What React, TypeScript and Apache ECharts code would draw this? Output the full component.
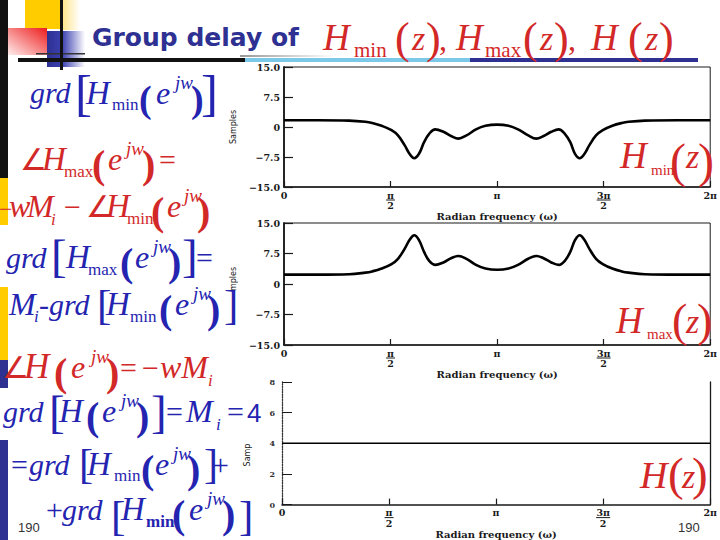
import React, { useEffect, useRef } from 'react';
import * as echarts from 'echarts';

// ---------- data ----------
const OMEGA = [0, 0.5, 0.96, 1.2, 1.3, 1.44, 1.585, 1.68, 1.78, 1.85, 1.92, 1.99, 2.065, 2.14, 2.23, 2.35, 2.47, 2.57, 2.69, 2.83, 2.97, 3.1416,
  3.31, 3.45, 3.6, 3.72, 3.82, 3.94, 4.05, 4.14, 4.22, 4.29, 4.36, 4.43, 4.5, 4.6, 4.7, 4.84, 4.98, 5.08, 5.32, 5.8, 6.2832];
const HMIN = [1.7, 1.7, 1.6, 1.3, 1.0, 0.3, -0.8, -2.1, -4.6, -6.7, -7.8, -6.7, -3.8, -1.7, -0.6, -1.2, -2.3, -2.9, -2.1, -0.6, 0.3, 0.6,
  0.3, -0.6, -2.1, -2.9, -2.3, -1.2, -0.6, -1.7, -3.8, -6.7, -7.8, -6.7, -4.6, -2.1, -0.8, 0.3, 1.0, 1.3, 1.6, 1.7, 1.7];
const HMAX = [2.3, 2.3, 2.4, 2.8, 3.1, 3.8, 4.9, 6.2, 8.7, 10.8, 12.0, 10.8, 7.9, 5.7, 4.7, 5.3, 6.4, 6.9, 6.2, 4.7, 3.8, 3.5,
  3.8, 4.7, 6.2, 6.9, 6.4, 5.3, 4.7, 5.7, 7.9, 10.8, 12.0, 10.8, 8.7, 6.2, 4.9, 3.8, 3.1, 2.8, 2.4, 2.3, 2.3];
const HTOT_OMEGA = [0, 6.2832];
const HTOT = [4, 4];

const X_LABELS = ['0', 'π/2', 'π', '3π/2', '2π'];
const Y_LABELS_15 = ['−15.0', '−7.5', '0', '7.5', '15.0'];
const Y_LABELS_8 = ['0', '2', '4', '6', '8'];
const X_NAME = 'Radian frequency (ω)';

// ---------- styling ----------
const BLUE = '#2424B0';
const RED = '#D22828';
const NAVY = '#2E3192';
const INK = '#1a1a1a';

type Tok = [string, number, number, number, string];

const ROW1: Tok[] = [['grd', 30, 103, 30, 'i'], ['[', 75, 110, 51, 'n'], ['H', 86, 104, 33, 'i'], ['min', 112, 110, 17, 'n'], ['(', 139, 112, 38, 'b'], ['e', 156, 104, 32, 'i'], ['jw', 175, 89, 19, 'i'], [')', 191, 112, 38, 'b'], [']', 201, 110, 51, 'n']];
const ROW2: Tok[] = [['∠', 20, 170, 30, 'n'], ['H', 42, 170, 33, 'i'], ['max', 64, 177, 17, 'n'], ['(', 92, 178, 40, 'b'], ['e', 108, 170, 32, 'i'], ['jw', 126, 155, 19, 'i'], [')', 142, 178, 40, 'b'], ['=', 159, 170, 30, 'n']];
const ROW3: Tok[] = [['−', -1, 217, 24, 'n'], ['w', 9, 217, 32, 'i'], ['M', 27, 217, 32, 'i'], ['i', 51, 225, 17, 'i'], ['−', 64, 217, 30, 'n'], ['∠', 86, 217, 30, 'n'], ['H', 106, 217, 33, 'i'], ['min', 127, 224, 17, 'n'], ['(', 151, 225, 40, 'b'], ['e', 167, 217, 32, 'i'], ['jw', 184, 202, 19, 'i'], [')', 197, 225, 40, 'b']];
const ROW4: Tok[] = [['grd', 6, 268, 30, 'i'], ['[', 51, 272, 47, 'n'], ['H', 66, 268, 33, 'i'], ['max', 88, 275, 17, 'n'], ['(', 120, 276, 40, 'b'], ['e', 135, 268, 32, 'i'], ['jw', 153, 253, 19, 'i'], [')', 168, 276, 40, 'b'], [']', 182, 272, 47, 'n'], ['=', 196, 268, 30, 'n']];
const ROW5: Tok[] = [['M', 9, 315, 32, 'i'], ['i', 34, 322, 17, 'i'], ['-grd', 39, 315, 30, 'i'], ['[', 97, 319, 43, 'n'], ['H', 106, 315, 33, 'i'], ['min', 130, 322, 17, 'n'], ['(', 159, 323, 40, 'b'], ['e', 175, 315, 32, 'i'], ['jw', 193, 300, 19, 'i'], [')', 207, 323, 40, 'b'], [']', 224, 319, 43, 'n']];
const ROW6: Tok[] = [['∠', 2, 378, 30, 'n'], ['H', 24, 378, 35, 'i'], ['(', 54, 386, 40, 'b'], ['e', 71, 378, 32, 'i'], ['jw', 91, 363, 19, 'i'], [')', 106, 386, 40, 'b'], ['=', 120, 378, 30, 'n'], ['−', 142, 378, 30, 'n'], ['wM', 160, 378, 32, 'i'], ['i', 208, 386, 17, 'i']];
const ROW7: Tok[] = [['grd', 3, 422, 30, 'i'], ['[', 49, 428, 47, 'n'], ['H', 59, 422, 33, 'i'], ['(', 86, 430, 40, 'b'], ['e', 102, 422, 32, 'i'], ['jw', 121, 407, 19, 'i'], [')', 136, 430, 40, 'b'], [']', 151, 428, 47, 'n'], ['=', 166, 422, 30, 'n'], ['M', 186, 422, 32, 'i'], ['i', 216, 430, 17, 'i'], ['=', 227, 422, 30, 'n'], ['4', 247, 422, 26, 's']];
const ROW8: Tok[] = [['=', 11, 475, 30, 'n'], ['grd', 29, 475, 30, 'i'], ['[', 79, 478, 42, 'n'], ['H', 87, 475, 33, 'i'], ['min', 114, 481, 17, 'n'], ['(', 141, 483, 40, 'b'], ['e', 155, 475, 32, 'i'], ['jw', 173, 460, 19, 'i'], [')', 187, 483, 40, 'b'], [']', 204, 478, 42, 'n'], ['+', 212, 475, 30, 'n']];
const ROW9: Tok[] = [['+', 46, 520, 30, 'n'], ['grd', 62, 520, 30, 'i'], ['[', 111, 530, 43, 'n'], ['H', 121, 520, 33, 'i'], ['min', 146, 527, 17, 'b'], ['(', 172, 528, 40, 'b'], ['e', 189, 520, 32, 'i'], ['jw', 207, 505, 19, 'i'], [')', 222, 528, 40, 'b'], [']', 239, 530, 43, 'n']];
const TITLE_MATH: Tok[] = [['H', 323, 50, 37, 'i'], ['min', 354, 57, 21, 'n'], ['(', 395, 53, 44, 'n'], ['z', 412, 50, 34, 'i'], [')', 426, 53, 44, 'n'], [',', 439, 50, 32, 'n'], ['H', 456, 50, 37, 'i'], ['max', 485, 57, 21, 'n'], ['(', 523, 53, 44, 'n'], ['z', 540, 50, 34, 'i'], [')', 554, 53, 44, 'n'], [',', 568, 50, 32, 'n'], ['H', 591, 50, 37, 'i'], ['(', 628, 53, 44, 'n'], ['z', 645, 50, 34, 'i'], [')', 659, 53, 44, 'n']];
const LBL1: Tok[] = [['H', 620, 168, 37, 'i'], ['min', 651, 175, 15, 'n'], ['(', 670, 177, 48, 'n'], ['z', 686, 168, 34, 'i'], [')', 698, 177, 48, 'n']];
const LBL2: Tok[] = [['H', 616, 333, 37, 'i'], ['max', 647, 339, 15, 'n'], ['(', 672, 336, 46, 'n'], ['z', 686, 333, 34, 'i'], [')', 697, 336, 46, 'n']];
const LBL3: Tok[] = [['H', 640, 488, 38, 'i'], ['(', 668, 490, 47, 'n'], ['z', 682, 488, 34, 'i'], [')', 692, 490, 47, 'n']];

function toks(list: Tok[], color: string) {
  return list.map(([text, x, B, size, f]) => ({
    type: 'text',
    x,
    y: B - 0.34 * size,
    z: 100,
    style: {
      text,
      fill: color,
      fontSize: size,
      fontFamily: f === 's' ? 'Liberation Sans' : 'Liberation Serif',
      fontStyle: f.includes('i') ? 'italic' : 'normal',
      fontWeight: f.includes('b') ? 'bold' : 'normal',
      align: 'left',
      verticalAlign: 'middle',
    },
  }));
}

function rect(x: number, y: number, w: number, h: number, fill: any, z = 60) {
  return { type: 'rect', shape: { x, y, width: w, height: h }, style: { fill }, z, silent: true };
}

const grad = (x: number, y: number, x2: number, y2: number, stops: [number, string][]) => ({
  type: 'linear', x, y, x2, y2, colorStops: stops.map(([offset, color]) => ({ offset, color })),
});

const tickFont = { fontFamily: 'DejaVu Serif', fontSize: 9.5, fontWeight: 'bold', color: INK };

function xLabel(v: number) {
  const k = Math.round(v / (Math.PI / 2));
  const s = X_LABELS[k] ?? '';
  if (s.includes('/')) {
    const [num, den] = s.split('/');
    return `{n|${num}}\n{${num.length > 1 ? 'bw' : 'b'}| }\n{d|${den}}`;
  }
  return `{n|${s}}`;
}

const xRich = {
  n: { ...tickFont, lineHeight: 8 },
  b: { width: 9, height: 1, backgroundColor: INK, lineHeight: 2, fontSize: 1 },
  bw: { width: 14, height: 1, backgroundColor: INK, lineHeight: 2, fontSize: 1 },
  d: { ...tickFont, lineHeight: 9 },
};

function xAxis(gridIndex: number) {
  return {
    type: 'value', gridIndex, min: 0, max: 2 * Math.PI, interval: Math.PI / 2,
    axisLine: { onZero: false, lineStyle: { color: INK, width: 1.5 } },
    axisTick: { inside: true, length: 6, lineStyle: { color: INK, width: 1.2 } },
    splitLine: { show: false },
    axisLabel: { margin: 4, formatter: xLabel, rich: xRich, showMinLabel: true, showMaxLabel: true, hideOverlap: false },
    name: X_NAME, nameLocation: 'middle', nameGap: 17,
    nameTextStyle: { fontFamily: 'DejaVu Serif', fontSize: 10, fontWeight: 'bold', color: INK },
  };
}

function yAxis15(gridIndex: number) {
  return {
    type: 'value', gridIndex, min: -15, max: 15, interval: 7.5,
    axisLine: { lineStyle: { color: INK, width: 1.8 } },
    axisTick: { inside: true, length: 9, lineStyle: { color: INK, width: 1.2 } },
    splitLine: { show: false },
    axisLabel: { margin: 4, ...tickFont, formatter: (v: number) => Y_LABELS_15[Math.round((v + 15) / 7.5)] ?? '' },
    name: 'Samples', nameLocation: 'middle', nameGap: 47,
    nameTextStyle: { fontFamily: 'DejaVu Sans', fontSize: 8, color: INK },
  };
}

function buildOption() {
  const graphic: any[] = [
    // left bars
    rect(0, 0, 8, 178, '#111'),
    rect(0, 178, 8, 47, '#FFCC00'),
    rect(0, 287, 8, 73, '#FFCC00'),
    rect(0, 360, 8, 28, NAVY),
    rect(0, 440, 8, 100, NAVY),
    // top-left decoration
    rect(25, 0, 35, 29, '#FFCC00'),
    rect(60, 0, 20, 30, grad(0, 0, 1, 0, [[0, '#FFE07A'], [1, '#FFFFFF']])),
    rect(8, 28, 39, 27, grad(1, 0, 0, 1, [[0, '#EE1C1C'], [1, '#FFEDED']])),
    rect(47, 31, 38, 36, grad(0, 0, 1, 0, [[0, NAVY], [0.4, '#3B40B0'], [1, '#FFFFFF']])),
    rect(36, 53, 49, 1.5, '#333'),
    rect(60, 0, 3, 70, '#111'),
    // title underline bars
    rect(18, 58, 227, 4, '#111'),
    rect(245, 58, 225, 4, '#7CC8E8'),
    rect(470, 58, 228, 4, NAVY),
    rect(240, 55, 95, 2, grad(0, 0, 1, 0, [[0, '#999'], [1, '#FFFFFF']])),
    // white box hiding part of chart-2 y name
    rect(212, 291, 30, 44, '#FFFFFF', 55),
    // title text
    {
      type: 'text', x: 92, y: 46 - 0.36 * 25, z: 100,
      style: { text: 'Group delay of', fill: NAVY, fontSize: 25, fontFamily: 'DejaVu Sans', fontWeight: 'bold', verticalAlign: 'middle' },
    },
    ...toks(TITLE_MATH, RED),
    ...toks(ROW1, BLUE), ...toks(ROW2, RED), ...toks(ROW3, RED), ...toks(ROW4, BLUE), ...toks(ROW5, BLUE),
    ...toks(ROW6, RED), ...toks(ROW7, BLUE), ...toks(ROW8, BLUE), ...toks(ROW9, BLUE),
    ...toks(LBL1, RED), ...toks(LBL2, RED), ...toks(LBL3, RED),
    // chart 3 partial y name
    {
      type: 'text', x: 247, y: 455, rotation: Math.PI / 2, z: 100,
      style: { text: 'Samp', fill: INK, fontSize: 8, fontFamily: 'DejaVu Sans', align: 'center', verticalAlign: 'middle' },
    },
    // page numbers
    { type: 'text', x: 18, y: 527, z: 100, style: { text: '190', fill: '#333', fontSize: 13, fontFamily: 'Liberation Sans', verticalAlign: 'middle' } },
    { type: 'text', x: 678, y: 527, z: 100, style: { text: '190', fill: '#333', fontSize: 13, fontFamily: 'Liberation Sans', verticalAlign: 'middle' } },
  ];

  return {
    animation: false,
    backgroundColor: '#fff',
    grid: [
      { left: 284, top: 67, width: 432, height: 120, show: true, borderColor: INK, borderWidth: 1, backgroundColor: 'transparent' },
      { left: 284, top: 223, width: 431, height: 122, show: true, borderColor: INK, borderWidth: 1, backgroundColor: 'transparent' },
      { left: 282, top: 382, width: 431, height: 123 },
    ],
    xAxis: [xAxis(0), xAxis(1), xAxis(2)],
    yAxis: [
      yAxis15(0),
      yAxis15(1),
      {
        type: 'value', gridIndex: 2, min: 0, max: 8, interval: 2,
        axisLine: { lineStyle: { color: '#333', width: 1.3, type: 'dotted' } },
        axisTick: { inside: true, length: 10, lineStyle: { color: INK, width: 1 } },
        splitLine: { show: false },
        axisLabel: { margin: 7, fontFamily: 'DejaVu Serif', fontSize: 8, fontWeight: 'bold', color: '#333', formatter: (v: number) => Y_LABELS_8[Math.round(v / 2)] ?? '' },
      },
      {
        type: 'value', gridIndex: 2, min: 0, max: 8, position: 'right',
        axisLine: { show: true, lineStyle: { color: INK, width: 1.3 } },
        axisTick: { show: false }, axisLabel: { show: false }, splitLine: { show: false },
      },
    ],
    series: [
      {
        type: 'line', xAxisIndex: 0, yAxisIndex: 0, showSymbol: false, smooth: 0.4,
        lineStyle: { color: '#000', width: 2.6 },
        data: OMEGA.map((w, i) => [w, HMIN[i]]),
      },
      {
        type: 'line', xAxisIndex: 1, yAxisIndex: 1, showSymbol: false, smooth: 0.4,
        lineStyle: { color: '#000', width: 2.6 },
        data: OMEGA.map((w, i) => [w, HMAX[i]]),
      },
      {
        type: 'line', xAxisIndex: 2, yAxisIndex: 2, showSymbol: false,
        lineStyle: { color: '#000', width: 1.6 },
        data: HTOT_OMEGA.map((w, i) => [w, HTOT[i]]),
      },
    ],
    graphic: { elements: graphic },
  };
}

export default function App() {
  const ref = useRef<HTMLDivElement>(null);
  useEffect(() => {
    const chart = echarts.init(ref.current!, null, { renderer: 'svg' });
    chart.setOption(buildOption() as any);
    return () => chart.dispose();
  }, []);
  return (
    <div
      ref={ref}
      style={{ position: 'fixed', left: 0, top: 0, width: 720, height: 540, background: '#fff' }}
    />
  );
}
